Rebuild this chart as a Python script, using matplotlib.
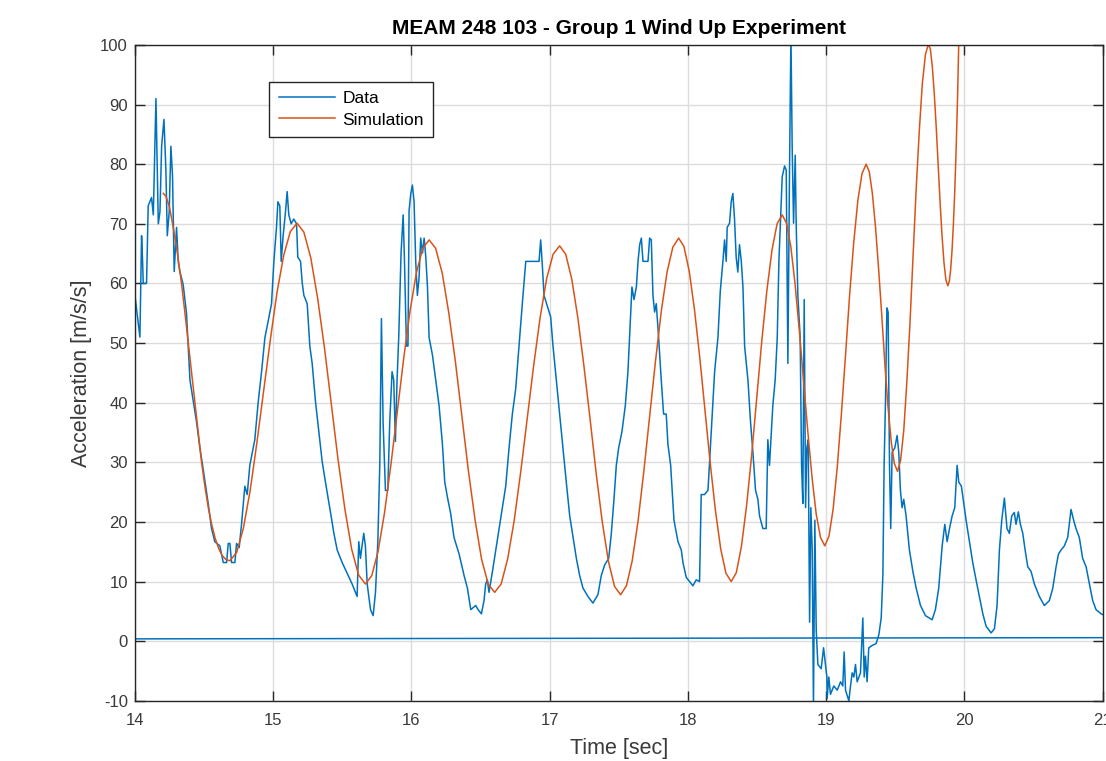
import numpy as np
import matplotlib
matplotlib.use('Agg')
import matplotlib.pyplot as plt

data_t = [14.000, 14.036, 14.048, 14.055, 14.060, 14.084, 14.096, 14.120, 14.133, 14.152,
          14.169, 14.181, 14.193, 14.210, 14.224, 14.234, 14.248, 14.260, 14.272, 14.284,
          14.301, 14.313, 14.325, 14.349, 14.373, 14.398, 14.422, 14.446, 14.470, 14.494,
          14.530, 14.554, 14.578, 14.614, 14.639, 14.663, 14.675, 14.687, 14.699, 14.723,
          14.735, 14.754, 14.771, 14.795, 14.812, 14.831, 14.867, 14.892, 14.916, 14.940,
          14.964, 14.988,
          15.005, 15.024, 15.034, 15.048, 15.058, 15.072, 15.089, 15.101, 15.113, 15.130,
          15.149, 15.169, 15.178, 15.198, 15.210, 15.222, 15.246, 15.265, 15.282, 15.306,
          15.330, 15.354, 15.378, 15.414, 15.439, 15.463, 15.499, 15.535, 15.571, 15.595,
          15.607, 15.619, 15.631, 15.655, 15.667, 15.680, 15.704, 15.723, 15.740, 15.757,
          15.771, 15.783, 15.795, 15.812, 15.829, 15.843, 15.860, 15.872, 15.884, 15.896,
          15.908, 15.925, 15.940, 15.949, 15.964, 15.975,
          15.983, 15.995, 16.007, 16.019, 16.031, 16.043, 16.055, 16.067, 16.080, 16.092,
          16.104, 16.116, 16.128, 16.152, 16.176, 16.200, 16.224, 16.241, 16.260, 16.284,
          16.308, 16.345, 16.381, 16.405, 16.429, 16.465, 16.482, 16.506, 16.525, 16.537,
          16.549, 16.561, 16.586, 16.610, 16.634, 16.658, 16.682, 16.706, 16.730, 16.754,
          16.778, 16.802, 16.827, 16.923, 16.935, 16.947, 16.959, 16.983,
          17.007, 17.024, 17.048, 17.072, 17.096, 17.120, 17.145, 17.169, 17.193, 17.217,
          17.241, 17.277, 17.313, 17.349, 17.373, 17.398, 17.427, 17.446, 17.465, 17.482,
          17.499, 17.523, 17.547, 17.566, 17.586, 17.595, 17.610, 17.627, 17.639, 17.651,
          17.663, 17.675, 17.711, 17.723, 17.735, 17.747, 17.759, 17.771, 17.788, 17.807,
          17.824, 17.843, 17.855, 17.875, 17.899, 17.928, 17.952,
          17.964, 17.988, 18.012, 18.036, 18.060, 18.084, 18.096, 18.120, 18.145, 18.169,
          18.193, 18.217, 18.234, 18.253, 18.265, 18.277, 18.284, 18.301, 18.313, 18.325,
          18.337, 18.349, 18.361, 18.373, 18.386, 18.398, 18.410, 18.434, 18.453, 18.470,
          18.489, 18.506, 18.518, 18.542, 18.566, 18.578, 18.590, 18.602, 18.614, 18.631,
          18.646, 18.658, 18.670, 18.682, 18.699, 18.711, 18.723, 18.735, 18.745, 18.754,
          18.764, 18.776, 18.783, 18.795, 18.812, 18.822, 18.831, 18.841, 18.851, 18.860,
          18.870, 18.880, 18.889, 18.899, 18.908, 18.918, 18.928, 18.940, 18.964, 18.981,
          19.005,
          19.007, 19.019, 19.031, 19.055, 19.080, 19.104, 19.120, 19.130, 19.140, 19.164,
          19.176, 19.188, 19.200, 19.212, 19.224, 19.248, 19.265, 19.275, 19.284, 19.296,
          19.308, 19.333, 19.361, 19.381, 19.398, 19.410, 19.419, 19.429, 19.439, 19.448,
          19.458, 19.467, 19.477, 19.496, 19.513, 19.525, 19.537, 19.549, 19.561, 19.578,
          19.602, 19.627, 19.651, 19.682, 19.718, 19.766, 19.790, 19.814, 19.839, 19.858,
          19.875, 19.892, 19.911, 19.930, 19.947, 19.959, 19.978,
          20.012, 20.036, 20.060, 20.084, 20.108, 20.133, 20.157, 20.193, 20.217, 20.236,
          20.253, 20.270, 20.289, 20.308, 20.325, 20.342, 20.361, 20.373, 20.390, 20.405,
          20.422, 20.439, 20.458, 20.482, 20.506, 20.542, 20.578, 20.614, 20.639, 20.663,
          20.680, 20.699, 20.723, 20.747, 20.771, 20.790, 20.807, 20.831, 20.855, 20.880,
          20.904, 20.928, 20.952, 20.988, 21.007]
data_v = [58, 51, 68, 64, 60, 60, 73, 74.4, 71.5, 91,
          70, 72, 83, 87.5, 79, 68, 72, 83, 78, 62,
          69.4, 63.7, 62, 59.8, 55, 43.8, 40.2, 36.7, 32.4, 28.8,
          23.1, 18.9, 16.7, 16, 13.2, 13.2, 16.4, 16.4, 13.2, 13.2,
          16.4, 15.7, 19.6, 26, 24.6, 29.5, 33.8, 40.2, 45.2, 50.9,
          53.7, 56.6,
          63.7, 69.4, 73.7, 73, 63.7, 68, 72, 75.4, 71.5, 70,
          70.8, 70, 64.4, 63.7, 60.1, 58, 56.6, 49.5, 46.6, 40.2,
          35.2, 30.2, 26.7, 21.7, 18.1, 15.3, 13.2, 11.4, 9.6, 8.2,
          7.5, 16.7, 13.9, 18.1, 16, 9.6, 5.3, 4.3, 8.2, 16.7,
          29.5, 54.1, 36.7, 25.3, 25.3, 36.7, 45.2, 43.8, 33.5, 43.8,
          50.9, 65.1, 71.5, 64.4, 49.5, 49.5,
          72.2, 75, 76.5, 73.7, 63.7, 58, 60.9, 67.6, 65.1, 67.6,
          64.4, 59.4, 50.9, 48, 43.8, 39.5, 33.1, 26.7, 24.2, 21.4,
          17.4, 14.6, 11, 8.9, 5.3, 6, 5.3, 4.6, 6.8, 9.6,
          10.3, 8.2, 11.7, 15.3, 18.9, 22.4, 26, 32.4, 38.1, 42.3,
          49.5, 56.6, 63.7, 63.7, 67.3, 63, 58, 56.2,
          54.4, 49.5, 43.8, 38.1, 32.4, 26.7, 21, 17.4, 13.9, 11,
          8.9, 7.5, 6.4, 7.8, 11, 12.8, 13.9, 18.1, 23.8, 29.5,
          32.4, 35.2, 39.5, 45.2, 55.2, 59.4, 57.3, 59.4, 63.7, 66.5,
          67.6, 63.7, 63.7, 67.6, 67.3, 58, 55.2, 56.6, 50.9, 43.8,
          38.1, 38.1, 33.1, 29.5, 20.3, 16.7, 15.3,
          13.2, 10.7, 10, 9.3, 10.3, 10, 24.6, 24.6, 25.3, 35.2,
          45.2, 50.9, 58.7, 63.7, 67.3, 63.7, 69.4, 70.1, 73.7, 75.1,
          70.8, 64.4, 61.9, 66.5, 63.7, 59.4, 49.5, 43.8, 36.7, 31.7,
          25.3, 23.8, 21, 18.9, 18.9, 33.8, 29.5, 34.5, 39.5, 43.8,
          50.9, 63.7, 70.8, 77.9, 79.7, 79, 46.6, 79.4, 102, 82.9,
          70.1, 81.5, 70.1, 58, 50.9, 29.5, 23.1, 57.3, 22.4, 32.4,
          33.8, 3.2, 22.4, 15.3, -11, 20.3, 1.8, -3.9, -4.6, -1.1,
          -6,
          -9.6, -6, -8.9, -7.5, -8.2, -6.8, -7.5, -1.8, -8.2, -10,
          -7.5, -5.3, -6, -3.9, -6.8, -5.3, 3.9, -6, -2.5, -6.8,
          -1.1, -0.7, -0.4, 1.1, 3.9, 11, 29.5, 40.2, 55.9, 55.2,
          29.5, 18.9, 31.7, 32.4, 34.5, 31.7, 25.3, 22.4, 23.8, 21,
          15.3, 11.7, 8.9, 6, 4.3, 3.6, 5.3, 8.9, 16, 19.6,
          16.7, 18.9, 21, 22.4, 29.5, 26.7, 26,
          20.3, 16.7, 13.2, 10.3, 7.5, 4.6, 2.5, 1.4, 2.1, 6,
          15.3, 20.3, 24, 18.9, 18.1, 21, 21.6, 19.6, 21.7, 19.6,
          18.1, 15.3, 12.5, 11.7, 9.6, 7.5, 6, 6.8, 8.9, 12.5,
          14.6, 15.3, 16, 17.4, 22.1, 20.3, 18.9, 17.4, 13.9, 12.5,
          9.6, 6.8, 5.3, 4.6, 4.4]

# flat segment of the data trace near zero
base_t = [14.0, 21.0]
base_v = [0.4, 0.6]

# simulation curve
sim_t = [14.205, 14.225, 14.250, 14.280, 14.310, 14.337, 14.362, 14.386, 14.410, 14.434,
         14.458, 14.482, 14.506, 14.530, 14.555, 14.580, 14.605, 14.630, 14.658, 14.687,
         14.736, 14.784, 14.833, 14.881, 14.930, 14.979, 15.027, 15.076, 15.124, 15.173,
         15.222, 15.272, 15.321, 15.371, 15.420, 15.469, 15.519, 15.568, 15.618, 15.667,
         15.713, 15.759, 15.805, 15.851, 15.898, 15.944, 15.990, 16.036, 16.082, 16.128,
         16.175, 16.223, 16.270, 16.318, 16.365, 16.412, 16.460, 16.507, 16.555, 16.602,
         16.649, 16.696, 16.743, 16.790, 16.837, 16.884, 16.931, 16.978, 17.025, 17.072,
         17.116, 17.160, 17.204, 17.248, 17.293, 17.337, 17.381, 17.425, 17.469, 17.513,
         17.555, 17.597, 17.639, 17.681, 17.723, 17.765, 17.807, 17.849, 17.891, 17.933,
         17.971, 18.009, 18.047, 18.085, 18.123, 18.161, 18.199, 18.237, 18.275, 18.313,
         18.350, 18.387, 18.424, 18.461, 18.498, 18.534, 18.571, 18.608, 18.645, 18.682,
         18.713, 18.744, 18.774, 18.805, 18.836, 18.867, 18.898, 18.928, 18.959, 18.990,
         19.020, 19.050, 19.080, 19.110, 19.140, 19.169, 19.199, 19.229, 19.259, 19.289,
         19.312, 19.334, 19.357, 19.380, 19.403, 19.425, 19.448, 19.471, 19.493, 19.516,
         19.538, 19.561, 19.583, 19.606, 19.628, 19.650, 19.673, 19.695, 19.718, 19.740,
         19.754, 19.768, 19.782, 19.796, 19.810, 19.824, 19.838, 19.852, 19.866, 19.880,
         19.890, 19.900, 19.910, 19.920, 19.930, 19.940, 19.950, 19.960, 19.970]
sim_v = [75.1, 74.6, 72.8, 69.0, 64.6, 60.0, 55.0, 50.0, 45.0, 40.0,
         35.0, 30.0, 26.0, 22.5, 19.6, 17.3, 15.6, 14.4, 13.7, 13.5,
         14.9, 18.9, 25.2, 33.1, 41.8, 50.5, 58.4, 64.7, 68.7, 70.1,
         68.6, 64.3, 57.6, 49.2, 39.9, 30.5, 22.1, 15.4, 11.1, 9.6,
         11.0, 15.1, 21.5, 29.5, 38.5, 47.4, 55.4, 61.8, 65.9, 67.3,
         65.9, 61.7, 55.1, 46.9, 37.8, 28.6, 20.4, 13.8, 9.6, 8.2,
         9.6, 13.8, 20.2, 28.3, 37.3, 46.2, 54.3, 60.8, 64.9, 66.3,
         64.9, 60.7, 54.2, 46.1, 37.1, 28.0, 19.9, 13.4, 9.2, 7.8,
         9.3, 13.5, 20.1, 28.5, 37.7, 46.9, 55.3, 61.9, 66.1, 67.6,
         66.2, 62.1, 55.7, 47.7, 38.8, 29.9, 21.9, 15.5, 11.4, 10.0,
         11.5, 15.9, 22.7, 31.2, 40.8, 50.3, 58.8, 65.6, 70.0, 71.5,
         70.1, 66.2, 60.1, 52.3, 43.8, 35.2, 27.4, 21.3, 17.4, 16.0,
         17.6, 22.1, 29.2, 38.1, 48.0, 57.9, 66.8, 73.9, 78.4, 80.0,
         78.7, 75.1, 69.4, 62.2, 54.3, 46.3, 39.1, 33.4, 29.8, 28.5,
         30.3, 35.3, 43.3, 53.3, 64.4, 75.4, 85.4, 93.4, 98.4, 100.2,
         99.2, 96.3, 91.8, 86.2, 79.9, 73.6, 68.0, 63.5, 60.6, 59.6,
         60.3, 62.2, 65.4, 69.8, 75.5, 82.5, 91.0, 101.0, 112.0]

xticks = [14, 15, 16, 17, 18, 19, 20, 21]
yticks = [-10, 0, 10, 20, 30, 40, 50, 60, 70, 80, 90, 100]

plt.rcParams['font.family'] = ['Liberation Sans', 'DejaVu Sans']
plt.rcParams['axes.unicode_minus'] = False

fig = plt.figure(figsize=(11.06, 7.61), dpi=100)
ax = fig.add_axes([0.122, 0.079, 0.875, 0.862])

blue = '#0072BD'
red = '#D95319'
ax.plot(data_t, data_v, color=blue, lw=1.1, label='Data')
ax.plot(base_t, base_v, color=blue, lw=1.1)
ax.plot(sim_t, sim_v, color=red, lw=1.1, label='Simulation')

ax.set_xlim(14, 21)
ax.set_ylim(-10, 100)
ax.set_xticks(xticks)
ax.set_yticks(yticks)
ax.grid(True, color='#dcdcdc', lw=1.0)
ax.set_axisbelow(True)
ax.tick_params(direction='in', length=7, width=1, colors='#262626',
               labelcolor='#3a3a3a', labelsize=12, top=True, right=True)
ax.tick_params(axis='x', pad=9)
ax.tick_params(axis='y', pad=5)
for s in ax.spines.values():
    s.set_color('#262626')
    s.set_linewidth(1.0)

ax.set_title('MEAM 248 103 - Group 1 Wind Up Experiment', fontsize=15,
             fontweight='bold', pad=8)
ax.set_xlabel('Time [sec]', fontsize=15.5, color='#3a3a3a', labelpad=7)
ax.set_ylabel('Acceleration [m/s/s]', fontsize=15.5, color='#3a3a3a', labelpad=6)

leg = ax.legend(loc='upper left', bbox_to_anchor=(0.139, 0.944), fontsize=12.5,
                fancybox=False, framealpha=1, edgecolor='#262626',
                handlelength=3.2, borderpad=0.55, labelspacing=0.35,
                handletextpad=0.45, borderaxespad=0)
leg.get_frame().set_linewidth(1.0)

fig.savefig('out.png', dpi=100)
